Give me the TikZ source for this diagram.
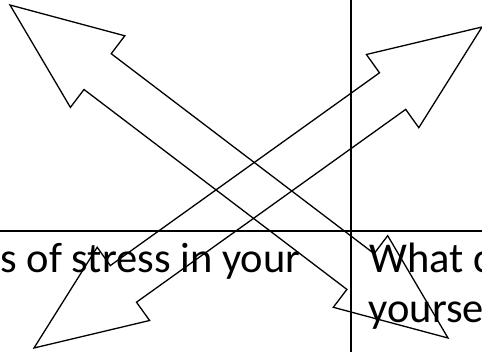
\documentclass[tikz,border=0pt]{standalone}
\usepackage{fontspec}
\setmainfont{Carlito}
\begin{document}
\begin{tikzpicture}[x=1pt,y=-1pt,
  celltext/.style={anchor=base west,inner sep=0pt,font=\fontsize{42.5}{50}\selectfont},
  gridline/.style={line width=1.8pt},
  bigarrow/.style={line width=1.3pt,line join=miter}]
\clip (0,0) rectangle (482,352);
\useasboundingbox (0,0) rectangle (482,352);
% grid lines
\coordinate (vtop) at (351,0);
\coordinate (vbot) at (351,352);
\coordinate (hl) at (0,231);
\coordinate (hr) at (482,231);
\draw[gridline] (vtop) -- (vbot);
\draw[gridline] (hl) -- (hr);
% texts
\node[celltext] (t1) at (0.4,272.5) {s of stress in your};
\node[celltext] (t2) at (369,272.5) {What c};
\node[celltext] (t3) at (368.5,322.5) {yourse};
% arrow NW-SE
\draw[bigarrow] (10,5) -- (124.8,35.8) -- (111.2,53.7) -- (374.1,253.6) -- (387.7,235.7)
  -- (448,338) -- (333.3,307.3) -- (346.9,289.4) -- (84.0,89.5) -- (70.4,107.4) -- cycle;
% arrow SW-NE
\draw[bigarrow] (34,348) -- (97.2,247.3) -- (110.3,265.6) -- (379.5,72.8) -- (366.4,54.5)
  -- (482,27) -- (418.8,127.7) -- (405.7,109.4) -- (136.5,302.2) -- (149.6,320.5) -- cycle;
\end{tikzpicture}
\end{document}
